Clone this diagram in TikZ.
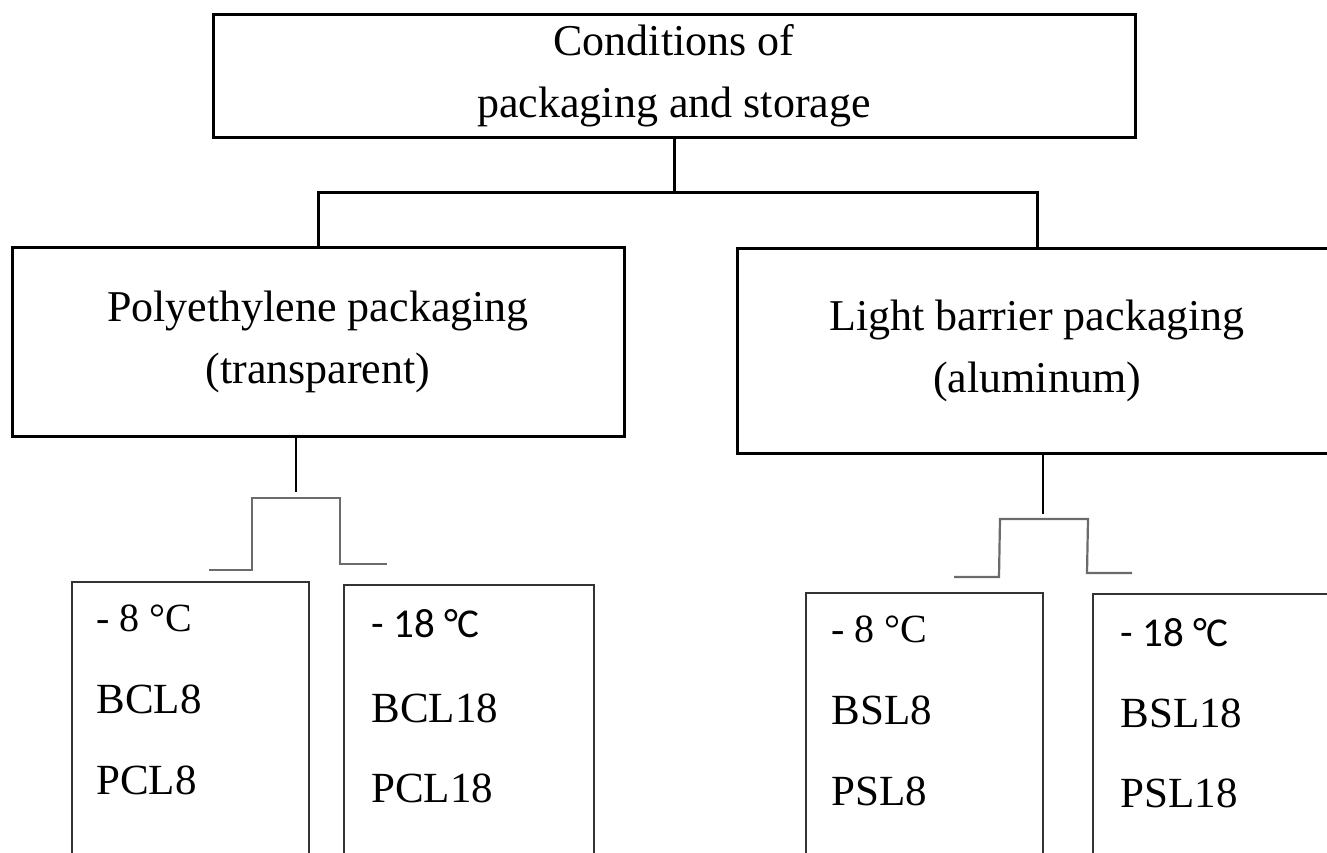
\documentclass[tikz,border=0pt]{standalone}
\usepackage{fontspec}
\setmainfont{Liberation Serif}
\newfontfamily\calibfont{Carlito}
\begin{document}
\begin{tikzpicture}[x=1pt,y=-1pt,
  mainbox/.style={draw=black, line width=3pt, inner sep=0pt, align=center,
    font=\fontsize{44}{62}\selectfont},
  subbox/.style={draw=black!80, line width=1.6pt, inner sep=0pt},
  tree/.style={draw=black, line width=3pt},
  stemline/.style={draw=black, line width=1.5pt},
  bracketline/.style={draw=black!58, line width=2.2pt},
  templbl/.style={anchor=base west, inner sep=0pt, font=\fontsize{40}{48}\selectfont},
  templblb/.style={anchor=base west, inner sep=0pt, font=\calibfont\fontsize{41}{48}\selectfont},
  codelbl/.style={anchor=base west, inner sep=0pt, font=\fontsize{43}{52}\selectfont}]
\useasboundingbox (0,0) rectangle (1327,852);
\clip (0,0) rectangle (1327,852);
\fill[white] (0,0) rectangle (1327,852);

% main boxes
\node[mainbox, minimum width=922pt, minimum height=123pt] (top) at (674,75.5)
  {Conditions of\\packaging and storage};
\node[mainbox, minimum width=612pt, minimum height=189pt] (lbox) at (318,341.5)
  {Polyethylene packaging\\(transparent)};
\node[mainbox, minimum width=600pt, minimum height=205pt] (rbox) at (1037,350.5)
  {Light barrier packaging\\(aluminum)};

% tree connectors
\coordinate (j) at (674,192);
\draw[tree] (top.south) -- (j);
\draw[tree] (lbox.north) |- (j) -| (rbox.north);

% sub boxes
\node[subbox, minimum width=237pt, minimum height=318pt] (b1) at (190.5,741) {};
\node[subbox, minimum width=250pt, minimum height=315pt] (b2) at (469,742.5) {};
\node[subbox, minimum width=237pt, minimum height=307pt] (b3) at (924.5,746.5) {};
\node[subbox, minimum width=247pt, minimum height=306pt] (b4) at (1216.5,747) {};

% left sub-connector
\coordinate (ls) at (296,492);
\draw[stemline] (ls |- lbox.south) -- (ls);
\coordinate (la) at (209,570);
\coordinate (lb) at (252,570);
\coordinate (lc) at (252,498);
\coordinate (ld) at (340,498);
\coordinate (le) at (340,564);
\coordinate (lf) at (387,564);
\draw[bracketline] (la) -- (lb) -- (lc) -- (ld) -- (le) -- (lf);

% right sub-connector
\coordinate (rs) at (1043,514);
\draw[stemline] (rs |- rbox.south) -- (rs);
\coordinate (ra) at (954,577);
\coordinate (rb) at (999,577);
\coordinate (rc) at (1000,519);
\coordinate (rd) at (1088,519);
\coordinate (re) at (1087,573);
\coordinate (rf) at (1132,573);
\draw[bracketline] (ra) -- (rb) -- (rc) -- (rd) -- (re) -- (rf);

% texts in sub boxes
\node[templbl] (t1a) at ([shift={(25,50)}]b1.north west) {- 8 °C};
\node[codelbl] (t1b) at ([shift={(25,132)}]b1.north west) {BCL8};
\node[codelbl] (t1c) at ([shift={(25,213)}]b1.north west) {PCL8};

\node[templblb] (t2a) at ([shift={(28,53)}]b2.north west) {- 18 °C};
\node[codelbl] (t2b) at ([shift={(28,138)}]b2.north west) {BCL18};
\node[codelbl] (t2c) at ([shift={(28,218)}]b2.north west) {PCL18};

\node[templbl] (t3a) at ([shift={(26,50)}]b3.north west) {- 8 °C};
\node[codelbl] (t3b) at ([shift={(26,132)}]b3.north west) {BSL8};
\node[codelbl] (t3c) at ([shift={(26,213)}]b3.north west) {PSL8};

\node[templblb] (t4a) at ([shift={(28,53)}]b4.north west) {- 18 °C};
\node[codelbl] (t4b) at ([shift={(28,134)}]b4.north west) {BSL18};
\node[codelbl] (t4c) at ([shift={(28,214)}]b4.north west) {PSL18};
\end{tikzpicture}
\end{document}
